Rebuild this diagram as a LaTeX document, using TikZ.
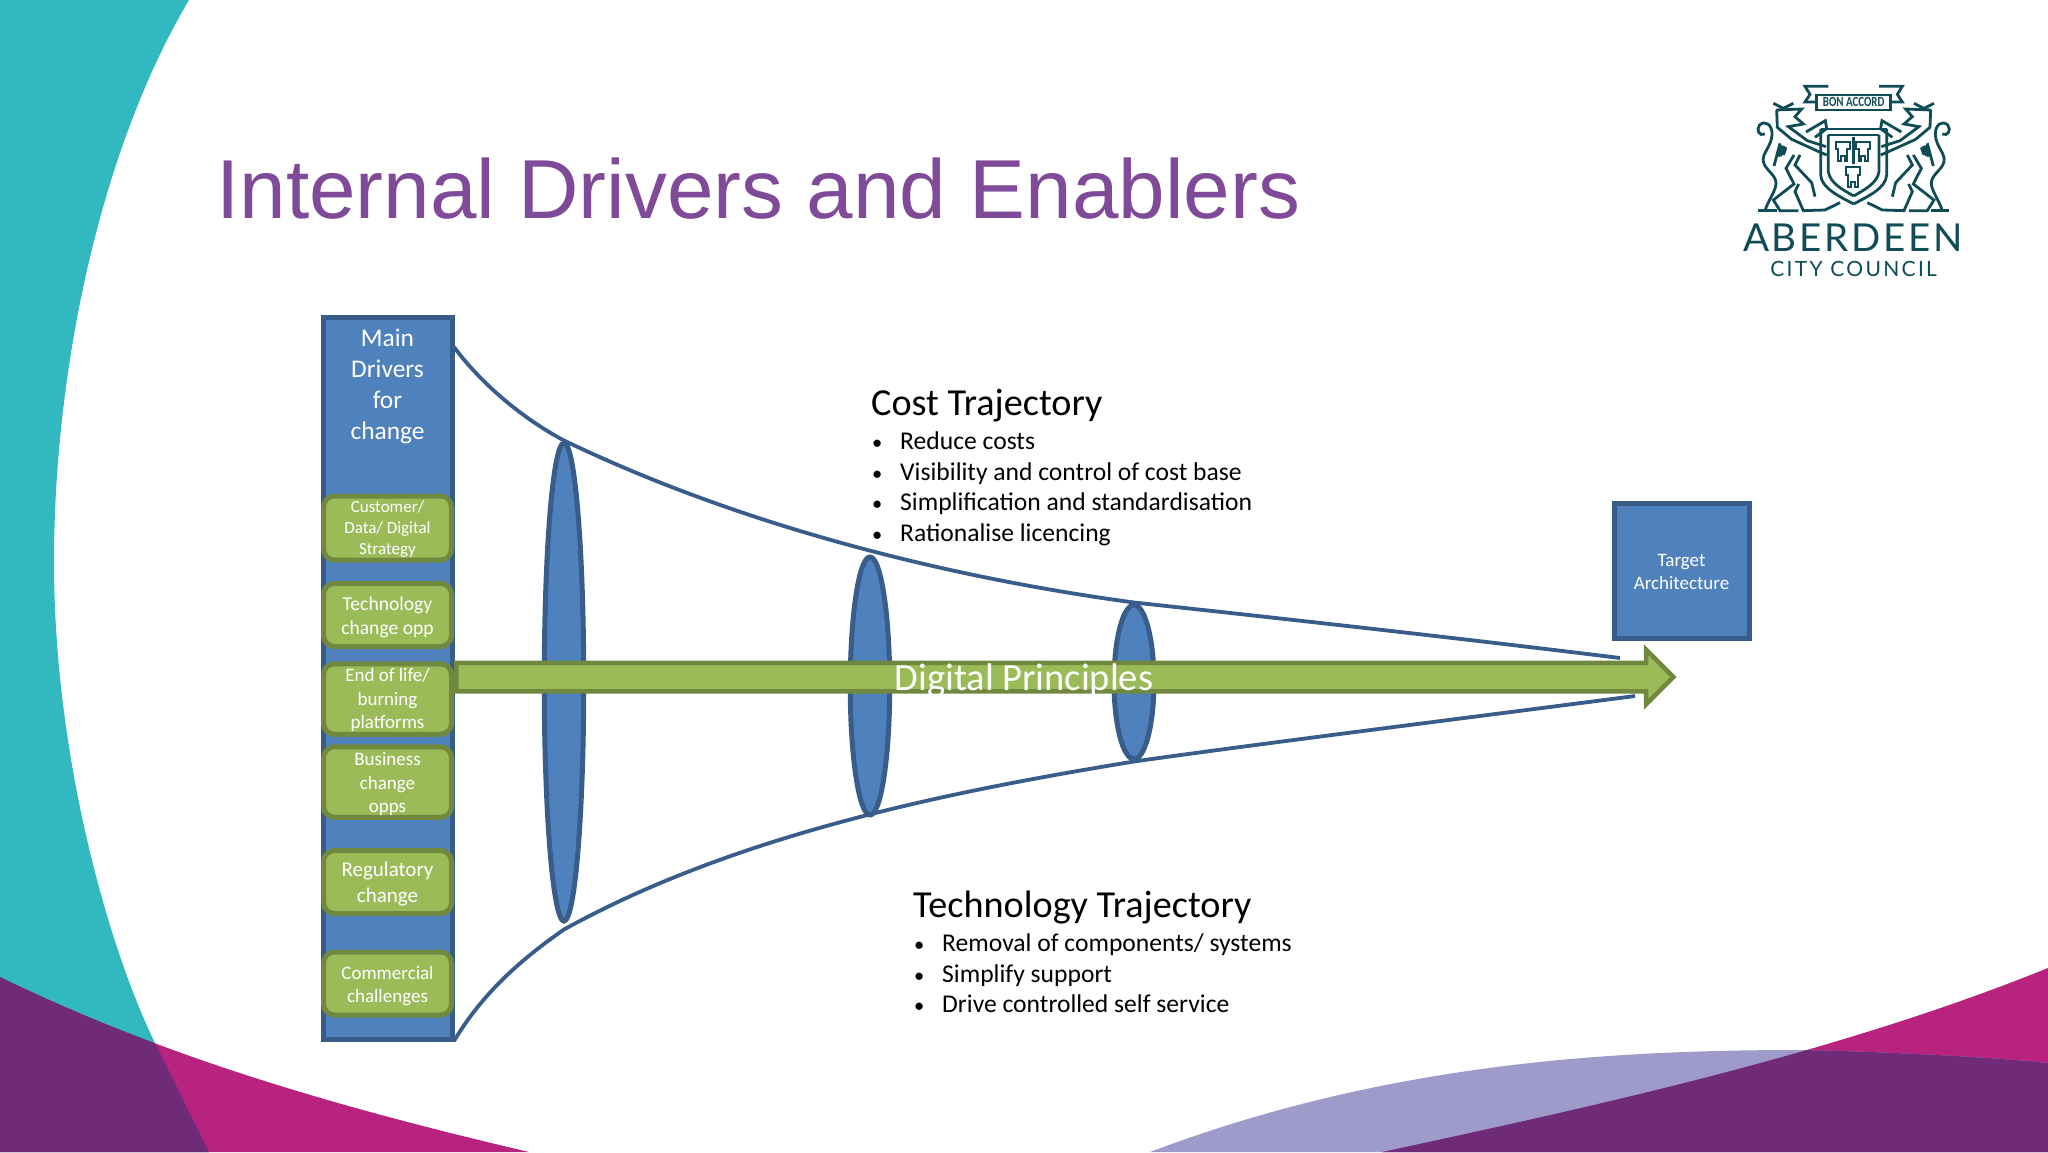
\documentclass[tikz,border=0pt]{standalone}
\usepackage{fontspec}
\setmainfont{Carlito}
\newfontfamily\titlefont{Liberation Sans}
\newfontfamily\logofont[LetterSpace=7]{Lato}
\newfontfamily\logosmallfont[LetterSpace=11]{Lato}
\usetikzlibrary{positioning,calc}
\usetikzlibrary{shapes.geometric,shapes.arrows}

\definecolor{bgteal}{HTML}{32B9BF}
\definecolor{bgmagenta}{HTML}{B82380}
\definecolor{bgpurple}{HTML}{6F2A78}
\definecolor{bglavender}{HTML}{9E9ACA}
\definecolor{titlepurple}{HTML}{7F4A98}
\definecolor{blockfill}{HTML}{4F81BD}
\definecolor{blockline}{HTML}{385D8A}
\definecolor{greenfill}{HTML}{9BBB59}
\definecolor{greenline}{HTML}{71893F}
\definecolor{logoink}{HTML}{0F4C56}

\tikzset{
    blockbox/.style={draw=blockline, fill=blockfill, line width=5pt, inner sep=0pt, text=white, align=center},
    driverbox/.style={draw=greenline, fill=greenfill, line width=5pt, rounded corners=11pt, inner sep=0pt,
        minimum width=128pt, minimum height=63pt, text=white, align=center},
    lens/.style={ellipse, draw=blockline, fill=blockfill, line width=5pt, inner sep=0pt},
    trajline/.style={draw=blockline, line width=3.8pt},
    headtext/.style={font=\fontsize{38.2}{46}\selectfont, anchor=west, inner sep=0pt},
    listtext/.style={font=\fontsize{25.6}{30.7}\selectfont, anchor=north west, align=left, inner sep=0pt},
    logoline/.style={draw=logoink, line width=2.8pt, line join=miter},
}
\newcommand{\bul}{\makebox[29pt][l]{\hspace{1pt}\scalebox{0.8}{•}}}
\newcommand{\lowtext}[2][2.6pt]{\raisebox{-#1}[\height][\depth]{\begin{tabular}{@{}c@{}}#2\end{tabular}}}

\begin{document}
\begin{tikzpicture}[x=1pt,y=-1pt]
    \useasboundingbox (0,0) rectangle (2048,1152);
    \fill[white] (0,0) rectangle (2048,1152);
    % background
    \fill[bgteal] (0,0) -- (189,0) .. controls (100,150) and (54,370) .. (54,562)
        .. controls (54,760) and (110,950) .. (154,1041) -- (209,1152) -- (0,1152) -- cycle;
    \fill[bgmagenta] (0,977) .. controls (170,1060) and (350,1110) .. (529,1152) -- (0,1152) -- cycle;
    \begin{scope}
        \clip (0,0) -- (189,0) .. controls (100,150) and (54,370) .. (54,562)
            .. controls (54,760) and (110,950) .. (154,1041) -- (209,1152) -- (0,1152) -- cycle;
        \fill[bgpurple] (0,977) .. controls (170,1060) and (350,1110) .. (529,1152) -- (0,1152) -- cycle;
    \end{scope}
    \fill[bgmagenta] (2048,968) .. controls (1840,1052) and (1610,1103) .. (1382,1152) -- (2048,1152) -- cycle;
    \fill[bglavender] (1150,1152) .. controls (1380,1065) and (1600,1050) .. (1800,1050)
        .. controls (1900,1052) and (2000,1058) .. (2048,1063) -- (2048,1152) -- cycle;
    \begin{scope}
        \clip (2048,968) .. controls (1840,1052) and (1610,1103) .. (1382,1152) -- (2048,1152) -- cycle;
        \fill[bgpurple] (1150,1152) .. controls (1380,1065) and (1600,1050) .. (1800,1050)
            .. controls (1900,1052) and (2000,1058) .. (2048,1063) -- (2048,1152) -- cycle;
    \end{scope}

    \node (title) [anchor=base west, inner sep=0pt, text=titlepurple, font=\titlefont\fontsize{83.7}{100}\selectfont]
        at (216,218) {Internal Drivers and Enablers};

    % main bar and its drivers
    \node (mainbar) [blockbox, minimum width=129pt, minimum height=722pt] at (387.5,678) {};
    \node (maintext) [text=white, align=center, inner sep=0pt, font=\fontsize{25.4}{30.8}\selectfont] at (387.5,386.5)
        {Main\\Drivers\\for\\change};
    \node (customer) [driverbox, font=\fontsize{17}{20.8}\selectfont, minimum height=64pt] at (387.5,528) {\lowtext[1.3pt]{Customer/\\Data/ Digital\\Strategy}};
    \node (techopp) [driverbox, font=\fontsize{19.6}{23.5}\selectfont] at (387.5,615) {\lowtext{Technology\\change opp}};
    \node (endlife) [driverbox, font=\fontsize{19}{23.5}\selectfont] at (387.5,699) {\lowtext[1.3pt]{End of life/\\burning\\platforms}};
    \node (business) [driverbox, font=\fontsize{19}{23.5}\selectfont] at (387.5,782) {\lowtext{Business\\change\\opps}};
    \node (regulatory) [driverbox, font=\fontsize{21}{26}\selectfont] at (387.5,882) {\lowtext{Regulatory\\change}};
    \node (commercial) [driverbox, font=\fontsize{19}{23.5}\selectfont] at (387.5,983.5) {\lowtext{Commercial\\challenges}};

    % lenses across the funnel
    \node (lensa) [lens, minimum width=39.5pt, minimum height=478pt] at (564,682) {};
    \node (lensb) [lens, minimum width=39.5pt, minimum height=258pt] at (870,686) {};
    \node (lensc) [lens, minimum width=40pt, minimum height=154pt] at (1134,682) {};

    \coordinate (topstart) at (454,347);
    \coordinate (topend) at (1620,658);
    \coordinate (botstart) at (454,1041);
    \coordinate (botend) at (1635,696);
    \coordinate (lowa) at ($(lensa.south)+(0,6)$);
    \draw[trajline] (topstart) .. controls (480,382) and (520,417) .. (lensa.north)
        .. controls (750,530) and (960,579) .. (lensc.north)
        .. controls (1250,615) and (1450,637) .. (topend);
    \draw[trajline] (botstart) .. controls (482,994) and (520,960) .. (lowa)
        .. controls (740,832) and (960,790) .. (lensc.south)
        .. controls (1250,745) and (1450,720) .. (botend);

    \node (digiarrow) [single arrow, draw=greenline, fill=greenfill, line width=4.5pt, inner xsep=0pt, inner ysep=12pt,
        minimum width=50pt, single arrow head extend=13pt, minimum height=1217pt, anchor=west] at (454,677) {};
    \node (digilabel) [text=white, inner sep=0pt, font=\fontsize{38.5}{46}\selectfont] at (1024,680.5) {Digital Principles};

    \node (target) [blockbox, minimum width=135pt, minimum height=135pt, font=\fontsize{19}{23.5}\selectfont] at (1681.5,570.5)
        {\lowtext{Target\\Architecture}};

    % trajectory lists
    \node (costhead) [headtext] at (871,405.5) {Cost Trajectory};
    \node (costlist) [listtext] at (871,431.5)
        {\bul Reduce costs\\ \bul Visibility and control of cost base\\ \bul Simplification and standardisation\\ \bul Rationalise licencing};
    \node (techhead) [headtext] at (913,907.5) {Technology Trajectory};
    \node (techlist) [listtext] at (913,933.5)
        {\bul Removal of components/ systems\\ \bul Simplify support\\ \bul Drive controlled self service};

    % logo, in the units of a 3x crop
    \begin{scope}[shift={(1700,60)},x=0.3333pt,y=-0.3333pt]
        \foreach \side/\off in {1/0,-1/922} {
            \begin{scope}[shift={(\off,0)},xscale=\side]
                \draw[logoline] (385,79) -- (315,79) -- (330,103) -- (315,126) -- (350,126);
                % lion
                \draw[logoline] (220,130) -- (250,145) -- (280,130);
                \draw[logoline] (228,150) -- (305,147) -- (285,170) -- (310,192) -- (265,200) -- (322,242) -- (378,260);
                \draw[logoline] (230,150) -- (232,202) -- (275,238) -- (350,272) -- (380,285);
                \draw[logoline] (318,216) -- (376,182) -- (380,206) -- (345,232);
                \draw[logoline] (195,222) .. controls (178,230) and (168,210) .. (178,196)
                    .. controls (195,178) and (218,195) .. (216,225) .. controls (214,260) and (185,280) .. (190,305)
                    .. controls (195,330) and (230,345) .. (228,372) .. controls (226,395) and (205,420) .. (195,452);
                \draw[logoline] (175,452) -- (230,452);
                \draw[logoline] (240,250) -- (222,318);
                \draw[logoline] (282,285) -- (258,325) -- (282,372) -- (220,420) -- (240,452) -- (295,452);
                \draw[logoline] (300,285) -- (285,315) -- (335,368) -- (345,410);
                \draw[logoline] (296,372) -- (285,395) -- (310,452) -- (375,450) -- (420,428);
                \draw[logoline] (252,258) -- (242,288) (245,256) -- (236,290) (258,262) -- (250,285);
                % shield side
                \draw[logoline] (362,207) -- (362,345) .. controls (364,385) and (420,410) .. (461,432);
                \draw[logoline] (385,225) -- (385,335) .. controls (390,370) and (430,390) .. (461,408);
            \end{scope}
        }
        \draw[logoline] (362,207) -- (560,207);
        \draw[logoline] (385,225) -- (537,225);
        \draw[logoline] (461,230) -- (461,312);
        \foreach \cx/\cy in {428/245,490/245,459/322} {
            \draw[logoline, line width=2.2pt] ($(\cx-21,\cy)$) -- ++(0,22) -- ++(7,0) -- ++(0,36) -- ++(8,0) -- ++(0,-14) -- ++(12,0)
                -- ++(0,14) -- ++(8,0) -- ++(0,-36) -- ++(7,0) -- ++(0,-22) -- cycle;
        }
        \draw[logoline, fill=white] (350,105) rectangle (572,150);
        \node (bonaccord) [inner sep=0pt, text=logoink, font=\bfseries\fontsize{14}{16}\selectfont] at (461,126)
            {\scalebox{0.78}[1]{BON ACCORD}};
        \node (aberdeen) [inner sep=0pt, text=logoink, font=\logofont\fontsize{38.5}{44}\selectfont] at (458,532) {ABERDEEN};
        \node (citycouncil) [inner sep=0pt, text=logoink, font=\logosmallfont\fontsize{21}{25}\selectfont] at (461,628) {CITY COUNCIL};
    \end{scope}
\end{tikzpicture}
\end{document}
